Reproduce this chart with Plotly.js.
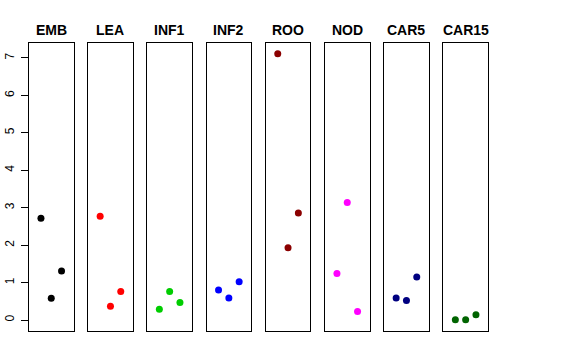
<!DOCTYPE html>
<html><head><meta charset="utf-8">
<script src="https://cdn.plot.ly/plotly-3.0.1.min.js"></script>
<style>html,body{margin:0;padding:0;background:#fff}#c{width:576px;height:360px}</style>
</head><body><div id="c"></div>
<script>
const panels = ["EMB","LEA","INF1","INF2","ROO","NOD","CAR5","CAR15"];
const colors = ["#000000","#FF0000","#00CD00","#0000FF","#8B0000","#FF00FF","#000080","#006400"];
const xpos = [1,2,3];
const EMB = [2.72,0.58,1.31];
const LEA = [2.77,0.37,0.76];
const INF1 = [0.29,0.76,0.47];
const INF2 = [0.80,0.59,1.02];
const ROO = [7.11,1.93,2.86];
const NOD = [1.24,3.14,0.23];
const CAR5 = [0.59,0.52,1.15];
const CAR15 = [0.01,0.01,0.14];
const values = [EMB,LEA,INF1,INF2,ROO,NOD,CAR5,CAR15];
const yTicks = [0,1,2,3,4,5,6,7];

const W = 576, H = 360;
const left0 = 29, pw = 44.5, pitch = 59.2;
const yTop = 43.3, yBot = 330.7;

const traces = [];
const layout = {
  width: W, height: H,
  margin: {l:0,r:0,t:0,b:0},
  paper_bgcolor: "#fff", plot_bgcolor: "#fff",
  showlegend: false,
  annotations: [],
  font: {family: "Liberation Sans, Arial, sans-serif", color: "#000"}
};
panels.forEach((p, i) => {
  const ax = i === 0 ? "" : String(i+1);
  traces.push({
    type: "scatter", mode: "markers",
    x: xpos, y: values[i],
    xaxis: "x" + ax, yaxis: "y" + ax,
    marker: {color: colors[i], size: 7},
    hoverinfo: "skip"
  });
  const x0 = (left0 + i*pitch)/W, x1 = (left0 + i*pitch + pw)/W;
  layout["xaxis" + ax] = {
    domain: [x0, x1], range: [-0.16, 4.16],
    showgrid: false, zeroline: false, showticklabels: false, ticks: "",
    showline: true, mirror: true, linecolor: "#000", linewidth: 1,
    anchor: "y" + ax, fixedrange: true
  };
  const ya = {
    domain: [1 - yBot/H, 1 - yTop/H], range: [-0.284, 7.39],
    showgrid: false, zeroline: false,
    showline: true, mirror: true, linecolor: "#000", linewidth: 1,
    anchor: "x" + ax, fixedrange: true
  };
  if (i === 0) {
    Object.assign(ya, {
      tickvals: yTicks, ticktext: yTicks.map(String),
      ticks: "outside", ticklen: 7, tickcolor: "#000", tickwidth: 1,
      tickangle: -90, tickfont: {size: 12, color: "#000"},
      ticklabelstandoff: 2
    });
  } else {
    Object.assign(ya, {showticklabels: false, ticks: ""});
  }
  layout["yaxis" + ax] = ya;
  layout.annotations.push({
    text: "<b>" + p + "</b>",
    xref: "paper", yref: "paper",
    x: (x0 + x1)/2, y: 1 - 29.5/H,
    xanchor: "center", yanchor: "middle",
    showarrow: false,
    font: {size: 14, color: "#000", family: "Liberation Sans, Arial, sans-serif"}
  });
});
Plotly.newPlot("c", traces, layout, {staticPlot: true});
</script>
</body></html>
